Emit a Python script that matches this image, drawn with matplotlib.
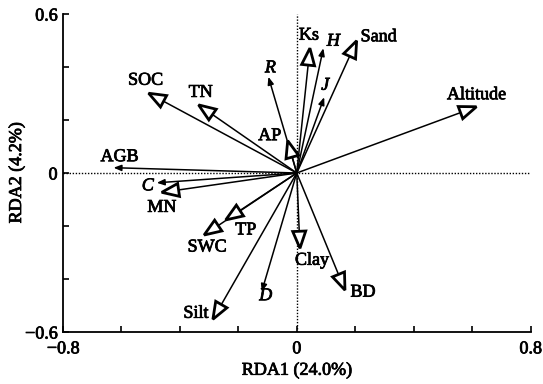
import numpy as np
import matplotlib
matplotlib.use("Agg")
import matplotlib.pyplot as plt
import matplotlib.patheffects as pe
from matplotlib.patches import Polygon
from matplotlib.transforms import ScaledTranslation
from matplotlib.ticker import FixedLocator, FuncFormatter

plt.rcParams['font.family'] = ['Liberation Serif', 'DejaVu Serif']

# Environmental variables (hollow arrow heads)
env_names = ["SOC", "TN", "AP", "Ks", "Sand", "Altitude", "MN", "TP", "SWC", "Silt", "Clay", "BD"]
env_rda1 = [-0.507, -0.336, -0.031, 0.045, 0.205, 0.615, -0.462, -0.243, -0.317, -0.287, 0.011, 0.165]
env_rda2 = [0.301, 0.257, 0.122, 0.471, 0.499, 0.250, -0.073, -0.177, -0.234, -0.552, -0.284, -0.442]

# Response variables (small filled arrow heads)
resp_names = ["AGB", "R", "H", "J", "C", "D"]
resp_rda1 = [-0.627, -0.097, 0.091, 0.094, -0.479, -0.120]
resp_rda2 = [0.020, 0.363, 0.471, 0.286, -0.037, -0.448]

xlabel = "RDA1 (24.0%)"
ylabel = "RDA2 (4.2%)"

# label offsets (pixels, display up positive)
env_off = {"SOC": (-3, 13), "TN": (2, 12.5), "AP": (-18, 5), "Ks": (-1, 13),
           "Sand": (22, 4), "Altitude": (0, 12), "MN": (0, -15), "TP": (20, -10), "SWC": (3, -12),
           "Silt": (-17, 6), "Clay": (12, -12), "BD": (18, -2)}
resp_off = {"AGB": (6, 11), "R": (2, 9), "H": (10, 7), "J": (1, 12), "C": (-9, -3), "D": (4, -4)}
italic_labels = {"R", "H", "J", "C", "D"}

heavy = [pe.withStroke(linewidth=0.55, foreground="black")]

fig = plt.figure(figsize=(5.43, 3.84), dpi=100)
ax = fig.add_axes([63 / 543, (384 - 332) / 384, (530.5 - 63) / 543, (332 - 14) / 384])
ax.set_xlim(-0.8, 0.8)
ax.set_ylim(-0.6, 0.6)

for s in ["top", "right"]:
    ax.spines[s].set_visible(False)
for s in ["left", "bottom"]:
    ax.spines[s].set_linewidth(1.3)

ax.xaxis.set_major_locator(FixedLocator(np.round(np.arange(-0.8, 0.81, 0.2), 2)))
ax.yaxis.set_major_locator(FixedLocator(np.round(np.arange(-0.6, 0.61, 0.2), 2)))

def fmt(v, pos, shown):
    for s in shown:
        if abs(v - s) < 1e-6:
            if abs(s) < 1e-9:
                return "0"
            return ("\u2212" if s < 0 else "") + f"{abs(s):.1f}"
    return ""

ax.xaxis.set_major_formatter(FuncFormatter(lambda v, p: fmt(v, p, [-0.8, 0, 0.8])))
ax.yaxis.set_major_formatter(FuncFormatter(lambda v, p: fmt(v, p, [-0.6, 0, 0.6])))
ax.tick_params(direction="in", length=4, width=1.2, labelsize=13)
ax.tick_params(axis="x", pad=6)
ax.tick_params(axis="y", pad=4)
for lab in ax.get_xticklabels() + ax.get_yticklabels():
    lab.set_path_effects(heavy)

ax.set_xlabel(xlabel, fontsize=13, labelpad=3, path_effects=heavy)
ax.set_ylabel(ylabel, fontsize=13, labelpad=0, path_effects=heavy)

ax.axvline(0, color="black", lw=1, ls=(0, (1, 1.2)), zorder=1)
ax.axhline(0, color="black", lw=1, ls=(0, (1, 1.2)), zorder=1)

fig.canvas.draw()
pt = 72.0 / 100.0

def disp_angle(x, y):
    p0 = ax.transData.transform((0, 0))
    p1 = ax.transData.transform((x, y))
    return np.arctan2(p1[1] - p0[1], p1[0] - p0[0])

# hollow arrows
L, W = 17 * pt / 72, 6.5 * pt / 72  # inches
for n, x, y in zip(env_names, env_rda1, env_rda2):
    ax.plot([0, x], [0, y], color="black", lw=1.1, zorder=2, solid_capstyle="butt")
    a = disp_angle(x, y)
    d = np.array([np.cos(a), np.sin(a)])
    nrm = np.array([-d[1], d[0]])
    verts = [np.zeros(2), -L * d + W * nrm, -L * d - W * nrm]
    tr = fig.dpi_scale_trans + ScaledTranslation(x, y, ax.transData)
    poly = Polygon(verts, closed=True, transform=tr, facecolor="white", edgecolor="black",
                   lw=2.0, joinstyle="miter", zorder=3)
    ax.add_patch(poly)
    ox, oy = env_off[n]
    ax.annotate(n, (x, y), xytext=(ox * pt, oy * pt), textcoords="offset points",
                ha="center", va="center", fontsize=13, zorder=4, path_effects=heavy)

# filled small arrows
for n, x, y in zip(resp_names, resp_rda1, resp_rda2):
    ax.annotate("", xy=(x, y), xytext=(0, 0),
                arrowprops=dict(arrowstyle="-|>,head_length=0.45,head_width=0.18",
                                color="black", lw=1.1, shrinkA=0, shrinkB=0), zorder=2)
    ox, oy = resp_off[n]
    ax.annotate(n, (x, y), xytext=(ox * pt, oy * pt), textcoords="offset points",
                ha="center", va="center", fontsize=13,
                style="italic" if n in italic_labels else "normal", zorder=4,
                path_effects=heavy)

fig.savefig("out.png", dpi=100)
